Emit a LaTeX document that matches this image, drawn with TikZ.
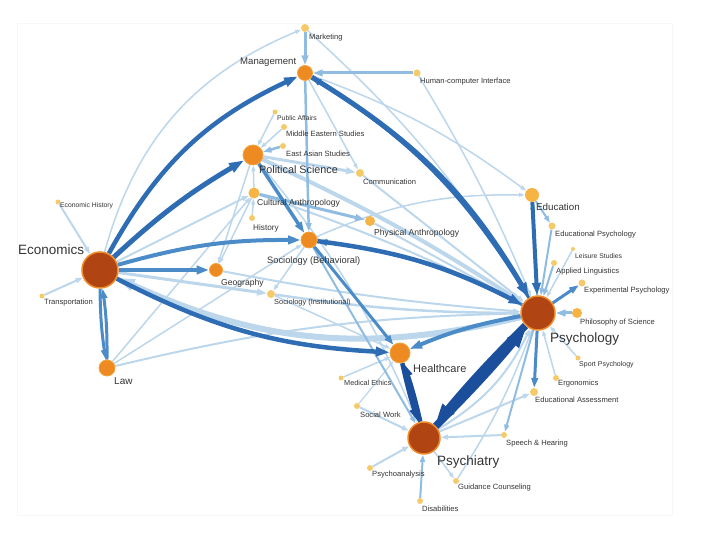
\documentclass[tikz,border=0pt]{standalone}
\usepackage{fontspec}
\setmainfont{Liberation Sans}
\usetikzlibrary{arrows.meta,backgrounds}
\definecolor{navy}{HTML}{1B4F9C}
\definecolor{dblue}{HTML}{2E6DB4}
\definecolor{mblue}{HTML}{4A8BC8}
\definecolor{lblue}{HTML}{8FBCE0}
\definecolor{vlblue}{HTML}{BCD6EC}
\definecolor{darknode}{HTML}{B04412}
\definecolor{rimnode}{HTML}{EE8B2A}
\definecolor{orangenode}{HTML}{EE8A22}
\definecolor{orrim}{HTML}{F3A33A}
\definecolor{yellownode}{HTML}{F5CA6A}
\definecolor{midyellow}{HTML}{F5B444}
\definecolor{labc}{HTML}{333333}
\tikzset{
  bignode/.style={circle,inner sep=0pt,fill=darknode,draw=rimnode,line width=1.5pt,minimum size=#1},
  ornode/.style={circle,inner sep=0pt,fill=orangenode,draw=orrim,line width=0.8pt,minimum size=#1},
  mynode/.style={circle,inner sep=0pt,fill=midyellow,minimum size=#1},
  smnode/.style={circle,inner sep=0pt,fill=yellownode,minimum size=#1},
  lab/.style={anchor=west,inner sep=0pt,text=labc},
  lbig/.style={lab,font=\fontsize{13.5}{15}\selectfont},
  lmed/.style={lab,font=\fontsize{10}{12}\selectfont},
  lmid/.style={lab,font=\fontsize{8.6}{10}\selectfont},
  lsm/.style={lab,font=\fontsize{7.6}{9}\selectfont},
  lxs/.style={lab,font=\fontsize{6.8}{8}\selectfont},
  ed/.style={-{Triangle[length=2pt 2.6,width=1.4pt 1.7]}},
  ENavy/.style={ed,draw=navy,line width=#1},
  EDark/.style={ed,draw=dblue,line width=#1},
  EMid/.style={ed,draw=mblue,line width=#1},
  ELight/.style={ed,draw=lblue,line width=#1},
  EPale/.style={ed,draw=vlblue,line width=#1},
}
\begin{document}
\begin{tikzpicture}[x=1pt,y=1pt]
\useasboundingbox (0,0) rectangle (720,540);
% nodes
\node[bignode=36pt] (eco) at (100,270) {};
\node[bignode=34pt] (psy) at (538,227) {};
\node[bignode=32pt] (psyc) at (424,102) {};
\node[ornode=20pt] (hc) at (400,187) {};
\node[ornode=20pt] (polsci) at (253,385) {};
\node[ornode=15pt] (mgmt) at (305,467) {};
\node[ornode=16pt] (socb) at (309,300) {};
\node[ornode=16pt] (law) at (107,172) {};
\node[ornode=13pt] (geo) at (216,270) {};
\node[mynode=14pt] (edu) at (532,345) {};
\node[mynode=11pt] (cult) at (254,347) {};
\node[mynode=10pt] (phys) at (370,319) {};
\node[mynode=10pt] (philsci) at (577,227) {};
\node[smnode=8pt] (mkt) at (305,512) {};
\node[smnode=7pt] (hci) at (417,467) {};
\node[smnode=5pt] (pubaff) at (275,428) {};
\node[smnode=6pt] (mes) at (284,413) {};
\node[smnode=6pt] (eas) at (283,394) {};
\node[smnode=8pt] (comm) at (360,367) {};
\node[smnode=6pt] (hist) at (252,322) {};
\node[smnode=8pt] (soci) at (271,246) {};
\node[smnode=5pt] (ecohist) at (58,338) {};
\node[smnode=5pt] (trans) at (42,244) {};
\node[smnode=7pt] (edpsy) at (552,314) {};
\node[smnode=4pt] (leis) at (573,291) {};
\node[smnode=6pt] (applin) at (554,277) {};
\node[smnode=7pt] (exppsy) at (582,257) {};
\node[smnode=5pt] (sport) at (578,182) {};
\node[smnode=6pt] (ergo) at (556,162) {};
\node[smnode=8pt] (edass) at (534,148) {};
\node[smnode=5pt] (medeth) at (341,162) {};
\node[smnode=6pt] (socw) at (357,134) {};
\node[smnode=6pt] (speech) at (504,105) {};
\node[smnode=6pt] (psyan) at (370,72) {};
\node[smnode=6pt] (guid) at (456,59) {};
\node[smnode=6pt] (disab) at (420,39) {};
% labels
\node[lbig] (l-eco) at (18,290) {Economics};
\node[lbig] (l-psy) at (550,201) {Psychology};
\node[lbig] (l-psyc) at (437,78) {Psychiatry};
\node[lmed,font=\fontsize{10.8}{12}\selectfont] (l-polsci) at (259,370) {Political Science};
\node[lmed,font=\fontsize{11}{12}\selectfont] (l-hc) at (413,171) {Healthcare};
\node[lmed,font=\fontsize{9.3}{11}\selectfont] (l-socb) at (267,279) {Sociology (Behavioral)};
\node[lmed,font=\fontsize{9.6}{11}\selectfont] (l-mgmt) at (240,478) {Management};
\node[lmed,font=\fontsize{9.8}{11}\selectfont] (l-edu) at (536,333) {Education};
\node[lmed] (l-law) at (114,159) {Law};
\node[lmid] (l-geo) at (221,257) {Geography};
\node[lmid] (l-cult) at (257,337) {Cultural Anthropology};
\node[lmid] (l-phys) at (374,307) {Physical Anthropology};
\node[lsm] (l-comm) at (363,358) {Communication};
\node[lsm] (l-hci) at (420,458) {Human-computer Interface};
\node[lsm] (l-mkt) at (309,502) {Marketing};
\node[lxs] (l-pubaff) at (277,422) {Public Affairs};
\node[lsm] (l-mes) at (286,406) {Middle Eastern Studies};
\node[lsm] (l-eas) at (286,386) {East Asian Studies};
\node[lmid,font=\fontsize{8.2}{10}\selectfont] (l-hist) at (253,312) {History};
\node[lxs] (l-ecohist) at (60,334) {Economic History};
\node[lsm] (l-trans) at (44,237) {Transportation};
\node[lsm,font=\fontsize{7.4}{9}\selectfont] (l-soci) at (274,237) {Sociology (Institutional)};
\node[lsm] (l-edpsy) at (555,305) {Educational Psychology};
\node[lxs] (l-leis) at (575,284) {Leisure Studies};
\node[lsm] (l-applin) at (556,268) {Applied Linguistics};
\node[lsm] (l-exppsy) at (584,249) {Experimental Psychology};
\node[lsm] (l-philsci) at (580,217) {Philosophy of Science};
\node[lxs,font=\fontsize{7}{8}\selectfont] (l-sport) at (579,175) {Sport Psychology};
\node[lsm] (l-ergo) at (558,156) {Ergonomics};
\node[lsm] (l-edass) at (535,140) {Educational Assessment};
\node[lsm,font=\fontsize{7.3}{9}\selectfont] (l-medeth) at (344,157) {Medical Ethics};
\node[lsm] (l-socw) at (360,125) {Social Work};
\node[lsm] (l-speech) at (506,96) {Speech \& Hearing};
\node[lsm] (l-psyan) at (372,65) {Psychoanalysis};
\node[lsm] (l-guid) at (458,52) {Guidance Counseling};
\node[lsm] (l-disab) at (422,31) {Disabilities};
% edges
\begin{scope}[on background layer]
\draw[gray!6,line width=0.6pt] (17,25) rectangle (672,517);
% pale edges
\draw[EPale=1.5pt] (eco) to[bend left=26] (mkt);
\draw[EPale=1.5pt] (mkt) to[bend left=8] (psy);
\draw[EPale=1.5pt] (hci) to[bend left=4] (psy);
\draw[EPale=1.5pt] (mgmt) to (comm);
\draw[EPale=1.5pt] (mgmt) to[bend left=8] (edu);
\draw[EPale=1.5pt] (pubaff) to (polsci);
\draw[EPale=1.5pt] (mes) to (polsci);
\draw[EPale=3pt] (polsci) to (comm);
\draw[EPale=4pt] (polsci) to[bend left=4] (psy);
\draw[EPale=2pt] (comm) to (psy);
\draw[EPale=1.5pt] (hist) to (cult);
\draw[EPale=1.5pt] (cult) to (polsci);
\draw[EPale=1.5pt] (cult) to (geo);
\draw[EPale=1.5pt] (polsci) to (geo);
\draw[EPale=2pt] (cult) to[bend left=4] (psy);
\draw[EPale=2pt] (phys) to (psy);
\draw[EPale=1.5pt] (socb) to[bend left=12] (edu);
\draw[EPale=1.5pt] (socb) to (soci);
\draw[EPale=2.5pt] (soci) to[bend right=4] (psy);
\draw[EPale=2pt] (geo) to[bend right=3] (psy);
\draw[EPale=3pt] (eco) to (soci);
\draw[EPale=2pt] (eco) to (cult);
\draw[EPale=1.5pt] (law) to (cult);
\draw[EPale=1.5pt] (law) to (socb);
\draw[EPale=2pt] (law) to[bend left=6] (psy);
\draw[EPale=2pt] (ecohist) to (eco);
\draw[EPale=2pt] (trans) to (eco);
\draw[EPale=6pt] (psy) to[bend left=19] (eco);
\draw[EPale=1.5pt] (polsci) to[bend left=8] (psyc);
\draw[EPale=1.5pt] (leis) to (psy);
\draw[EPale=1.5pt] (sport) to (psy);
\draw[EPale=1.5pt] (ergo) to (psy);
\draw[EPale=2pt] (speech) to (psyc);
\draw[EPale=2pt] (psyc) to (edass);
\draw[EPale=1.5pt] (guid) to[bend right=6] (psy);
\draw[EPale=1.5pt] (psyc) to (guid);
\draw[EPale=2pt] (psyan) to (psyc);
\draw[EPale=2pt] (socw) to (psyc);
\draw[EPale=1.5pt] (medeth) to (hc);
\draw[EPale=1.2pt] (socw) to (hc);
\draw[EPale=2pt] (psyc) to[bend right=16] (psy);
\draw[EPale=1.5pt] (soci) to (hc);
% light edges
\draw[ELight=2.5pt] (mgmt) to (socb);
\draw[ELight=3pt] (cult) to (phys);
\draw[ELight=3pt] (hci) to (mgmt);
\draw[ELight=3pt] (mkt) to (mgmt);
\draw[ELight=2.5pt] (eas) to (polsci);
\draw[ELight=2pt] (edpsy) to (psy);
\draw[ELight=2pt] (edu) to (edpsy);
\draw[ELight=2pt] (applin) to (psy);
\draw[ELight=3pt] (philsci) to (psy);
\draw[ELight=2pt] (psy) to (speech);
\draw[ELight=2pt] (disab) to (psyc);
\draw[ELight=2pt] (socb) to (psyc);
\draw[ELight=2pt] (psy) to (edu);
% mid edges
\draw[EMid=3pt] (psy) to (exppsy);
\draw[EMid=3pt] (psy) to (edass);
\draw[EMid=3pt] (eco) to[bend right=4] (law);
\draw[EMid=3pt] (law) to[bend right=4] (eco);
\draw[EMid=3.5pt] (polsci) to (socb);
\draw[EMid=3pt] (socb) to (hc);
\draw[EMid=4pt] (eco) to[bend left=8] (socb);
\draw[EMid=4pt] (eco) to (geo);
\draw[EMid=4pt] (psy) to[bend right=6] (hc);
\draw[EMid=3pt] (psy) to[bend right=9.5] (socb);
% dark edges
\draw[EDark=4.5pt] (eco) to[bend left=18] (mgmt);
\draw[EDark=5pt] (eco) to[bend left=6] (polsci);
\draw[EDark=5pt] (mgmt) to[bend left=14] (psy);
\draw[EDark=3pt] (psy) to[bend right=13] (mgmt);
\draw[EDark=4.5pt] (socb) to[bend left=10] (psy);
\draw[EDark=4.5pt] (eco) to[bend right=12] (hc);
\draw[EDark=4pt] (edu) to (psy);
% navy edges
\draw[ENavy=7.5pt] (psyc) to[bend right=2.5] (psy);
\draw[ENavy=7.5pt] (psy) to[bend right=2.5] (psyc);
\draw[ENavy=4.5pt] (hc) to[bend right=3] (psyc);
\draw[ENavy=4.5pt] (psyc) to[bend right=3] (hc);
\end{scope}
\end{tikzpicture}
\end{document}
